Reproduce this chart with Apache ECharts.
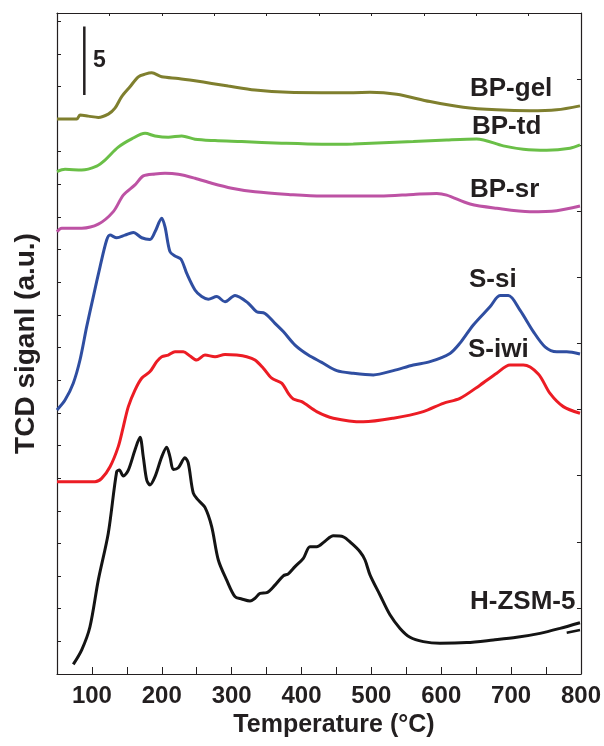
<!DOCTYPE html>
<html>
<head>
<meta charset="utf-8">
<script src="https://cdn.jsdelivr.net/npm/echarts@6/dist/echarts.min.js"></script>
<style>
  html, body { margin: 0; padding: 0; background: #fff; }
  #main { width: 604px; height: 746px; }
</style>
</head>
<body>
<div id="main"></div>
<script>
// TPD curves, x = temperature (°C), y = TCD signal (arbitrary, offset per sample)
var bpGel = [[50,167.9],[78.2,167.9],[82.9,169.1],[94.8,168.8],[109.1,168.4],[123.4,169.4],[133,171.2],[142.6,174.7],[154.5,177.7],[166.4,180.7],[176,181.5],[185.6,181.9],[199.9,180.7],[223.6,180.2],[247.5,179.5],[271.4,178.7],[295.2,177.9],[333.4,176.7],[381.1,176.0],[428.9,175.9],[474.1,175.9],[498,176.0],[536.2,175.4],[583.9,173.2],[631.6,171.5],[679.4,170.7],[727,170.4],[765.3,170.7],[798.6,171.9]];
var bpTd = [[50,152.0],[61.5,152.7],[85.4,152.5],[106.8,153.7],[118.7,155.5],[137.7,159.4],[156.9,161.9],[176,163.6],[190.3,162.8],[209.3,162.4],[228.5,162.8],[247.5,161.8],[276.2,161.4],[314.4,161.1],[371.6,160.6],[428.9,160.3],[474.1,160.4],[560,161.1],[607.8,161.6],[650.7,161.9],[688.8,159.8],[717.5,158.8],[751,158.5],[784.3,159.1],[798.6,160.1]];
var bpSr = [[50,133.8],[56.7,134.9],[85.4,134.9],[109.1,136.1],[130.6,139.9],[144.9,144.9],[161.6,148.0],[173.5,150.7],[190.3,151.3],[204.6,151.5],[223.6,151.2],[247.5,150.0],[271.4,148.5],[300.1,147.0],[333.4,145.9],[381.1,145.1],[428.9,144.6],[474.1,144.6],[512.3,144.6],[560,145.1],[593.5,145.4],[607.8,144.9],[641.2,142.2],[679.4,140.9],[727,139.9],[765.3,140.2],[798.6,141.6]];
var sSi = [[50,79.9],[61.5,82.9],[73.3,88.0],[82.9,95.0],[92.5,105.1],[102,114.2],[111.6,123.2],[121.1,131.3],[125.9,132.8],[135.5,132.0],[147.3,132.8],[159.2,133.6],[171.2,132.0],[183.1,131.5],[190.3,133.8],[199.9,137.9],[204.6,135.3],[211.7,127.8],[218.9,126.5],[227.5,125.5],[235.7,121.2],[247.5,116.2],[257.1,114.2],[266.6,113.4],[278.6,114.2],[290.5,112.6],[304.8,114.5],[323.8,112.2],[335.8,109.6],[347.7,109.1],[362,106.1],[373.9,103.6],[390.7,99.5],[409.7,96.5],[428.9,94.3],[450.4,91.8],[474.1,91.0],[502.8,90.5],[531.4,91.8],[560,93.5],[583.9,94.5],[612.5,97.0],[626.8,100.1],[645.9,105.6],[669.8,111.1],[684.1,114.5],[696,114.5],[712.7,110.1],[731.8,103.6],[748.5,99.0],[765.3,97.5],[779.6,97.5],[798.6,96.8]];
var sIwi = [[50,58.2],[104.4,58.2],[114,59.2],[125.9,62.7],[137.7,68.8],[144.9,74.8],[152.1,80.9],[161.6,85.9],[171.2,89.5],[183.1,91.5],[192.7,94.5],[199.9,96.0],[209.3,96.5],[218.9,97.5],[230.8,97.5],[240.4,96.2],[250,95.0],[261.8,96.5],[276.2,96.0],[290.5,96.7],[307.2,96.5],[321.5,96.0],[333.4,95.0],[345.3,92.5],[357.3,89.5],[371.6,88.0],[381.1,84.9],[388.2,83.2],[400.3,82.4],[421.7,79.4],[445.5,77.4],[488.4,76.3],[531.4,77.4],[574.3,79.4],[602.9,81.9],[626.8,83.4],[655.5,87.4],[679.4,91.0],[698.4,93.5],[717.5,93.5],[738.9,90.8],[755.7,84.9],[774.7,80.9],[798.6,78.9]];
var hZsm5 = [[73.3,2.9],[85.4,7.3],[97.2,14.3],[109.1,28.4],[123.4,42.6],[135.4,61.2],[139.2,61.7],[144.9,59.9],[152.1,61.7],[161.6,67.8],[168.8,71.6],[173.5,65.7],[178.4,58.7],[183.1,57.2],[190.3,59.7],[199.9,65.7],[207,68.6],[211.7,65.7],[216.5,61.9],[223.6,62.4],[233.2,65.4],[237.9,63.8],[245.1,54.7],[252.3,52.6],[261.8,50.4],[271.4,44.6],[280.9,34.5],[292.9,28.4],[304.8,23.4],[314.4,22.7],[326.3,22.1],[333.4,22.9],[340.6,24.4],[350.2,24.6],[362,26.9],[373.9,29.7],[381.1,30.3],[390.7,32.5],[402.6,35.0],[412.1,38.5],[421.7,38.5],[433.6,40.2],[445.5,41.8],[459.8,41.5],[471.8,39.5],[483.7,37.0],[490.9,34.5],[498,30.0],[512.3,23.9],[526.6,17.9],[541,13.8],[555.3,11.1],[574.3,9.8],[598.2,9.3],[636.4,9.5],[674.5,10.3],[708,11.1],[741.4,12.3],[770,13.8],[798.6,15.5]];
var hZsm5Tail = [[779.6,12.5],[798.6,13.3]];
var scaleBar = [[89.1,195.9],[89.1,175.2]];

var sampleNames = ['BP-gel', 'BP-td', 'BP-sr', 'S-si', 'S-iwi', 'H-ZSM-5'];
var sampleData = [bpGel, bpTd, bpSr, sSi, sIwi, hZsm5];
var sampleColors = ['#7f7f2e', '#6abf47', '#bd52a4', '#2f4ea1', '#ec1c24', '#141414'];

var myChart = echarts.init(document.getElementById('main'));
var font = '"Liberation Sans", Arial, sans-serif';
var black = '#231f20';

var series = [];
for (var i = 0; i < sampleNames.length; i++) {
    series.push({
        name: sampleNames[i],
        type: 'line',
        data: sampleData[i],
        showSymbol: false,
        smooth: 0.3,
        lineStyle: { color: sampleColors[i], width: 3 },
        z: 10 - i
    });
}
series.push({
    name: 'H-ZSM-5 tail', type: 'line', data: hZsm5Tail, showSymbol: false,
    lineStyle: { color: sampleColors[5], width: 2.5 }
});
series.push({
    name: 'scale', type: 'line', data: scaleBar, showSymbol: false,
    lineStyle: { color: black, width: 2.5 }
});

// sample labels, placed next to their curves
var labelPos = [[470, 89], [472, 127], [470, 190], [469, 280], [468, 350], [470, 602]];
var graphics = [];
for (var j = 0; j < sampleNames.length; j++) {
    graphics.push({
        type: 'text', x: labelPos[j][0], y: labelPos[j][1], z: 100,
        style: { text: sampleNames[j], font: 'bold 26px ' + font, fill: black, align: 'left', verticalAlign: 'middle' }
    });
}
graphics.push({
    type: 'text', x: 93, y: 61, z: 100,
    style: { text: '5', font: 'bold 23px ' + font, fill: black, align: 'left', verticalAlign: 'middle' }
});

option = {
    animation: false,
    backgroundColor: '#fff',
    grid: { left: 57, right: 23, top: 13, bottom: 72 },
    xAxis: [{
        type: 'value', position: 'bottom', min: 50, max: 800, interval: 50,
        name: 'Temperature (°C)', nameLocation: 'middle', nameGap: 36,
        nameTextStyle: { fontFamily: font, fontWeight: 'bold', fontSize: 25, color: black, padding: [0, 0, 0, 30] },
        axisLine: { show: true, onZero: false, lineStyle: { color: black, width: 1.2 } },
        axisTick: { show: true, inside: true, length: 7, lineStyle: { color: black } },
        axisLabel: {
            margin: 10, fontFamily: font, fontWeight: 'bold', fontSize: 24, color: black,
            formatter: function (v) { return v % 100 === 0 ? String(v) : ''; }
        },
        splitLine: { show: false }
    }, {
        type: 'value', position: 'top', min: 0, max: 750, interval: 75,
        axisLine: { show: true, onZero: false, lineStyle: { color: black, width: 1.2 } },
        axisTick: { show: true, inside: true, length: 3, lineStyle: { color: black } },
        axisLabel: { show: false },
        splitLine: { show: false }
    }],
    yAxis: [{
        type: 'value', position: 'left', min: 0, max: 200,
        name: 'TCD siganl (a.u.)', nameLocation: 'middle', nameGap: 17,
        nameTextStyle: { fontFamily: font, fontWeight: 'bold', fontSize: 28, color: black },
        axisLine: { show: true, onZero: false, lineStyle: { color: black, width: 1.2 } },
        axisTick: { show: false },
        axisLabel: { show: false },
        splitLine: { show: false }
    }, {
        type: 'value', position: 'left', min: 0, max: 20.25, interval: 1,
        axisLine: { show: false },
        axisTick: { show: true, inside: true, length: 4, lineStyle: { color: black } },
        axisLabel: { show: false },
        splitLine: { show: false }
    }, {
        type: 'value', position: 'right', min: 0, max: 10, interval: 1,
        axisLine: { show: true, onZero: false, lineStyle: { color: black, width: 1.2 } },
        axisTick: { show: true, inside: true, length: 4, lineStyle: { color: black } },
        axisLabel: { show: false },
        splitLine: { show: false }
    }],
    graphic: graphics,
    series: series
};

myChart.setOption(option);
window.addEventListener('resize', function () {
    myChart.resize();
});
</script>
</body>
</html>
